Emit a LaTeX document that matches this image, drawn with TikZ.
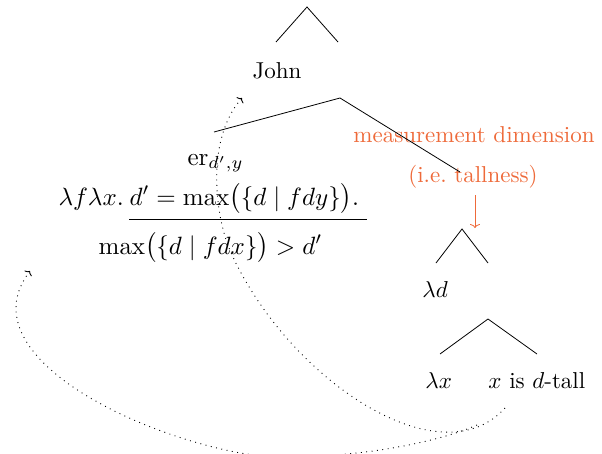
\documentclass[tikz,border=0pt]{standalone}
\usepackage{amsmath}
\usetikzlibrary{arrows.meta}
\definecolor{dimorange}{RGB}{238,106,58}
\begin{document}
\begin{tikzpicture}[x=1pt,y=-1pt,
  lbl/.style={inner sep=0pt, anchor=base west, scale=2.3},
  lblc/.style={inner sep=0pt, anchor=base, scale=2.3},
  fml/.style={inner sep=0pt, anchor=base west, scale=2.5},
  branch/.style={line width=0.8pt},
  move/.style={dash pattern=on 0.9pt off 4.5pt, line width=0.9pt, -{To[length=3.5pt,width=9pt]}},
  note/.style={dimorange, line width=0.8pt, -{To[length=4pt,width=10pt]}}]
\useasboundingbox (0,0) rectangle (602,453);
% labels
\node[lblc] (john) at (277,78) {John};
\node[fml] (er) at (187,165) {er$_{d',y}$};
\node[fml] (lam) at (58,205) {$\lambda f\lambda x.$};
\node[fml] (num) at (129,205) {$d' = \max\bigl(\{d \mid fdy\}\bigr).$};
\node[fml] (den) at (98,254) {$\max\bigl(\{d \mid fdx\}\bigr) > d'$};
\node[lblc, text=dimorange] (meas) at (474,142) {measurement dimension};
\node[lblc, text=dimorange] (ie) at (473,182) {(i.e.\ tallness)};
\node[lbl] (lamd) at (422,297) {$\lambda d$};
\node[lbl] (lamx) at (425,388) {$\lambda x$};
\node[lbl] (xtall) at (488,388) {$x$ is $d$-tall};
% fraction bar
\coordinate (barL) at (129,219);
\coordinate (barR) at (367,219);
\draw[line width=1pt] (barL) -- (barR);
% tree branches
\coordinate (t1a) at (307,7);
\coordinate (t1l) at (276,42);
\coordinate (t1r) at (338,42);
\draw[branch] (t1l) -- (t1a) -- (t1r);
\coordinate (t2a) at (340,98);
\coordinate (t2l) at (214,132);
\coordinate (t2r) at (460,172);
\draw[branch] (t2l) -- (t2a) -- (t2r);
\coordinate (t3a) at (462,229);
\coordinate (t3l) at (436,263);
\coordinate (t3r) at (488,263);
\draw[branch] (t3l) -- (t3a) -- (t3r);
\coordinate (t4a) at (488,319);
\coordinate (t4l) at (440,354);
\coordinate (t4r) at (537,354);
\draw[branch] (t4l) -- (t4a) -- (t4r);
% orange arrow
\coordinate (na) at (475,195);
\coordinate (nb) at (475,228);
\draw[note] (na) -- (nb);
% movement arrows
\coordinate (m1s) at (505,408);
\coordinate (m1m) at (232,255);
\coordinate (m1e) at (242,98);
\draw[move] (m1s) .. controls (440,480) and (290,380) .. (m1m) .. controls (215,219) and (205,140) .. (m1e);
\coordinate (m2s) at (477,425);
\coordinate (m2m) at (235,452);
\coordinate (m2e) at (30,271);
\draw[move] (m2s) .. controls (420,450) and (300,465) .. (m2m) .. controls (120,429) and (-30,350) .. (m2e);
\end{tikzpicture}
\end{document}
